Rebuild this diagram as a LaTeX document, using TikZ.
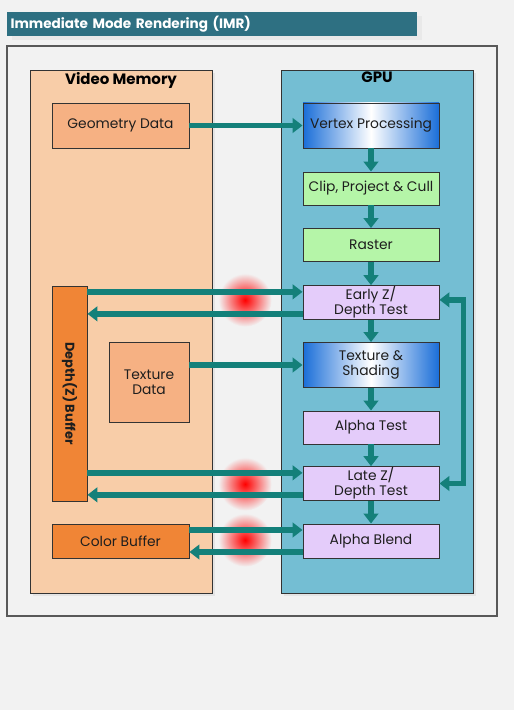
\documentclass[tikz,border=0pt]{standalone}
\usepackage{fontspec}
\setmainfont{Poppins}
\usetikzlibrary{arrows.meta,shadows}

\definecolor{bggray}{HTML}{F2F2F2}
\definecolor{titleteal}{HTML}{2E7082}
\definecolor{memfill}{HTML}{F8CDA8}
\definecolor{datafill}{HTML}{F6B183}
\definecolor{bufferorange}{HTML}{F08536}
\definecolor{gpufill}{HTML}{74BED3}
\definecolor{clipgreen}{HTML}{B5F5A8}
\definecolor{lilac}{HTML}{E4CCFA}
\definecolor{gradblue}{HTML}{1A6ED8}
\definecolor{arrowteal}{HTML}{14807A}
\definecolor{boxline}{HTML}{333333}
\definecolor{textgray}{HTML}{1E1E1E}

\tikzset{
  box/.style={draw=boxline, line width=0.8pt, minimum width=4.08cm, minimum height=0.99cm,
    align=center, inner sep=1pt, text=textgray, font=\fontsize{11.8}{12.6}\selectfont},
  tall/.style={minimum height=1.35cm},
  greenbox/.style={box, fill=clipgreen},
  lilacbox/.style={box, fill=lilac},
  gradbox/.style={box, tall, left color=gradblue, right color=gradblue, middle color=white},
  databox/.style={box, fill=datafill},
  bufbox/.style={box, fill=bufferorange},
  container/.style={draw=boxline, line width=0.8pt, minimum height=15.69cm,
    drop shadow={opacity=0.12, shadow xshift=1mm, shadow yshift=-1mm}},
  heading/.style={anchor=north, inner sep=2pt, font=\fontsize{12.8}{13}\selectfont\bfseries},
  flow/.style={draw=arrowteal, line width=4.8pt, ->},
  glow/.style={inner color=red, outer color=bggray},
  >={Triangle[length=3mm,width=4.4mm]}
}

\begin{document}
\begin{tikzpicture}[x=0.03cm, y=-0.03cm]
    \useasboundingbox[fill=bggray] (0,0) rectangle (514,710);
    % title bar
    \node[anchor=north west, fill=titleteal, text=white, minimum width=12.3cm, minimum height=0.69cm,
      text width=12.1cm, inner xsep=0.1cm, align=left, font=\fontsize{11.6}{12}\selectfont\bfseries,
      drop shadow={opacity=0.08, shadow xshift=1.5mm, shadow yshift=-1.2mm}] (title) at (7,12)
      {Immediate Mode Rendering (IMR)};
    \draw[draw=black!65, line width=1.2pt, fill=bggray] (7,46) rectangle (497,616);

    % the two sides
    \node[container, fill=memfill, minimum width=5.46cm,
      label={[heading]north:Video Memory}] (vmem) at (121,331.5) {};
    \node[container, fill=gpufill, minimum width=5.76cm,
      label={[heading]north:GPU}] (gpu) at (377,331.5) {};

    % memory blocks
    \node[databox, tall, minimum width=4.11cm] (geo) at (120.5,125.5) {Geometry Data};
    \node[databox, minimum width=2.4cm, minimum height=2.4cm] (texdata) at (149,382) {Texture\\Data};
    \node[bufbox, minimum width=1.05cm, minimum height=6.45cm] (depth) at (69.5,393.5)
      {\rotatebox{-90}{\fontsize{11}{11}\selectfont\bfseries Depth(Z) Buffer}};
    \node[bufbox, minimum width=4.11cm, minimum height=1.02cm] (color) at (120.5,541) {Color Buffer};

    % pipeline stages
    \node[gradbox] (vert) at (371,125.5) {Vertex Processing};
    \node[greenbox] (clip) at (371,188.5) {Clip, Project \& Cull};
    \node[greenbox] (raster) at (371,245) {Raster};
    \node[lilacbox] (early) at (371,302.5) {Early Z/\\Depth Test};
    \node[gradbox] (shade) at (371,365) {Texture \&\\Shading};
    \node[lilacbox] (atest) at (371,427.5) {Alpha Test};
    \node[lilacbox] (late) at (371,483.5) {Late Z/\\Depth Test};
    \node[lilacbox, minimum height=1.02cm] (blend) at (371,541) {Alpha Blend};

    % memory traffic hot spots
    \shade[glow] (245,300) circle (0.8cm);
    \shade[glow] (245,484) circle (0.8cm);
    \shade[glow] (245,540) circle (0.8cm);

    % connectors
    \draw[flow] (geo) -- (vert);
    \foreach \a/\b in {vert/clip, clip/raster, raster/early, early/shade, shade/atest, atest/late, late/blend}
        \draw[flow] (\a) -- (\b);
    \draw[flow] ([yshift=3.2mm]depth.east |- early.west) -- ([yshift=3.2mm]early.west);
    \draw[flow] ([yshift=-3.4mm]early.west) -- ([yshift=-3.4mm]depth.east |- early.west);
    \draw[flow] (texdata.east |- shade.west) -- (shade.west);
    \draw[flow] ([yshift=3.2mm]depth.east |- late.west) -- ([yshift=3.2mm]late.west);
    \draw[flow] ([yshift=-3.4mm]late.west) -- ([yshift=-3.4mm]depth.east |- late.west);
    \draw[flow] ([yshift=3.3mm]color.east) -- ([yshift=3.3mm]blend.west);
    \draw[flow] ([yshift=-3.3mm]blend.west) -- ([yshift=-3.3mm]color.east);
    \draw[flow, <->] (late.east) -- ++(7.2mm,0) |- ([yshift=0.8mm]early.east);
\end{tikzpicture}
\end{document}
